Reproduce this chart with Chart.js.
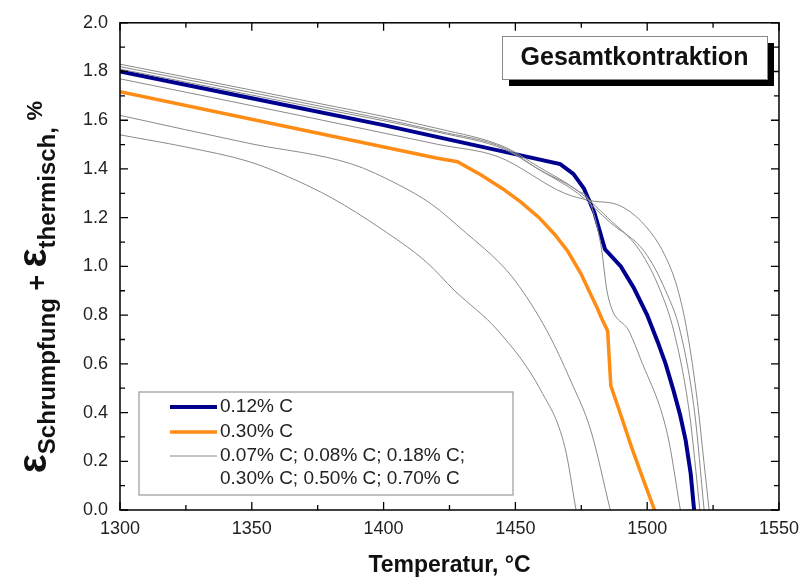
<!DOCTYPE html>
<html>
<head>
<meta charset="utf-8">
<script src="https://cdn.jsdelivr.net/npm/chart.js@4.4.0/dist/chart.umd.min.js"></script>
<style>
  html, body { margin: 0; padding: 0; background: #fff; }
  #wrap { width: 807px; height: 584px; }
</style>
</head>
<body>
<div id="wrap"><canvas id="chart" width="807" height="584"></canvas></div>
<script>
// Axis ranges and ticks
const xMin = 1300, xMax = 1550, xStep = 50;
const yMin = 0, yMax = 2.0, yStep = 0.2;

// 0.12% C (blue)
const t012 = [1300, 1350, 1400, 1446, 1467, 1472, 1476, 1480, 1484, 1490, 1495, 1500, 1504, 1507, 1510, 1512.5, 1514.6, 1516.5, 1517.8];
const e012 = [1.80, 1.69, 1.58, 1.47, 1.42, 1.38, 1.32, 1.22, 1.07, 1.00, 0.91, 0.80, 0.69, 0.60, 0.49, 0.39, 0.286, 0.15, 0.0];

// 0.30% C (orange)
const t030 = [1300, 1368, 1420, 1428, 1437, 1445, 1452, 1459, 1465, 1470, 1475, 1478.6, 1481, 1483, 1485, 1486.2, 1490, 1494, 1498, 1502.8];
const e030 = [1.717, 1.563, 1.445, 1.43, 1.375, 1.32, 1.265, 1.20, 1.13, 1.06, 0.967, 0.885, 0.83, 0.78, 0.735, 0.51, 0.39, 0.26, 0.14, 0.0];

// other steels (grey)
const tGreyA = [1300, 1325, 1349, 1364, 1380.5, 1399, 1416, 1427, 1443.5, 1459.7, 1468.8, 1473];
const eGreyA = [1.54, 1.49, 1.43, 1.367, 1.28, 1.155, 1.02, 0.90, 0.735, 0.49, 0.257, 0.0];

const tGreyB = [1300, 1349, 1388, 1405.7, 1418, 1431, 1443.5, 1450, 1462, 1471, 1478.6, 1486];
const eGreyB = [1.62, 1.505, 1.42, 1.335, 1.257, 1.14, 1.02, 0.94, 0.735, 0.53, 0.327, 0.0];

const tGreyC = [1300, 1368, 1421, 1446, 1458.6, 1473.7, 1478, 1482.4, 1485, 1493.3, 1497.5, 1507.7, 1512.6];
const eGreyC = [1.81, 1.665, 1.55, 1.48, 1.40, 1.31, 1.27, 1.09, 0.885, 0.73, 0.62, 0.31, 0.0];

const tGreyD = [1300, 1368, 1421, 1443.5, 1468.7, 1478.6, 1489.5, 1499, 1506.5, 1511.5, 1515.2, 1519, 1521.5, 1523.5];
const eGreyD = [1.77, 1.62, 1.50, 1.45, 1.30, 1.27, 1.25, 1.17, 1.05, 0.91, 0.73, 0.45, 0.2, 0.0];

const tGreyE = [1300, 1368, 1421, 1446, 1458.6, 1473.7, 1485, 1497.5, 1505, 1510.2, 1516, 1520];
const eGreyE = [1.83, 1.685, 1.565, 1.49, 1.41, 1.31, 1.20, 1.06, 0.90, 0.73, 0.40, 0.0];

const tGreyF = [1300, 1368, 1421, 1446, 1458.6, 1473.7, 1486, 1499, 1507, 1512.6, 1518, 1521.6];
const eGreyF = [1.82, 1.675, 1.555, 1.485, 1.40, 1.30, 1.18, 1.06, 0.90, 0.73, 0.40, 0.0];

const legendLabels = ['0.12% C', '0.30% C', ['0.07% C; 0.08% C; 0.18% C;', '0.30% C; 0.50% C; 0.70% C']];
const boxTitle = 'Gesamtkontraktion';
const xTitle = 'Temperatur, °C';

const BLUE = '#00008f';
const ORANGE = '#ff8c14';
const GREY = '#8a8a8a';
const FONT = '"Liberation Sans", Arial, sans-serif';

function pts(ts, es) {
  return ts.map((t, i) => ({ x: t, y: es[i] }));
}

function greySet(ts, es) {
  return { data: pts(ts, es), borderColor: GREY, borderWidth: 1, showLine: true, pointRadius: 0,
    cubicInterpolationMode: 'monotone' };
}

// Frame, inward ticks and all the annotation text
const decor = {
  id: 'decor',
  afterDraw(chart) {
    const { ctx, chartArea: a, scales: { x, y } } = chart;
    ctx.save();

    // frame
    ctx.strokeStyle = '#000';
    ctx.lineWidth = 1.5;
    ctx.strokeRect(a.left, a.top, a.right - a.left, a.bottom - a.top);

    // ticks (major + minor), pointing inward on all four sides
    ctx.lineWidth = 1.3;
    ctx.beginPath();
    for (let t = xMin; t <= xMax; t += xStep / 2) {
      const px = x.getPixelForValue(t);
      const len = (t - xMin) % xStep === 0 ? 8 : 5;
      ctx.moveTo(px, a.bottom); ctx.lineTo(px, a.bottom - len);
      ctx.moveTo(px, a.top); ctx.lineTo(px, a.top + len);
    }
    const nY = Math.round((yMax - yMin) / (yStep / 2));
    for (let i = 0; i <= nY; i++) {
      const py = y.getPixelForValue(yMin + i * yStep / 2);
      const len = i % 2 === 0 ? 8 : 5;
      ctx.moveTo(a.left, py); ctx.lineTo(a.left + len, py);
      ctx.moveTo(a.right, py); ctx.lineTo(a.right - len, py);
    }
    ctx.stroke();

    // title box with drop shadow
    const bx = 502, by = 36, bw = 265, bh = 43;
    ctx.fillStyle = '#000';
    ctx.fillRect(bx + 7, by + 7, bw, bh);
    ctx.fillStyle = '#fff';
    ctx.fillRect(bx, by, bw, bh);
    ctx.strokeStyle = '#888';
    ctx.lineWidth = 1;
    ctx.strokeRect(bx + 0.5, by + 0.5, bw, bh);
    ctx.fillStyle = '#111';
    ctx.font = 'bold 25px ' + FONT;
    ctx.textAlign = 'center';
    ctx.textBaseline = 'middle';
    ctx.fillText(boxTitle, bx + bw / 2, by + bh / 2 + 1);

    // legend
    const lx = 139, ly = 392, lw = 374, lh = 103;
    ctx.fillStyle = '#fff';
    ctx.fillRect(lx, ly, lw, lh);
    ctx.strokeStyle = '#999';
    ctx.lineWidth = 1.2;
    ctx.strokeRect(lx, ly, lw, lh);
    const rows = [407, 432, 456];
    const ds = chart.data.datasets;
    const legendSets = [ds[ds.length - 1], ds[ds.length - 2], ds[0]];
    ctx.font = '19px ' + FONT;
    ctx.textAlign = 'left';
    ctx.fillStyle = '#222';
    legendSets.forEach((d, i) => {
      ctx.strokeStyle = d.borderColor;
      ctx.lineWidth = d.borderWidth;
      ctx.beginPath();
      ctx.moveTo(170, rows[i]);
      ctx.lineTo(217, rows[i]);
      ctx.stroke();
      const lab = legendLabels[i];
      if (Array.isArray(lab)) {
        lab.forEach((s, k) => ctx.fillText(s, 220, rows[i] + k * 23));
      } else {
        ctx.fillText(lab, 220, rows[i]);
      }
    });

    // x axis title
    ctx.fillStyle = '#111';
    ctx.font = 'bold 23px ' + FONT;
    ctx.textAlign = 'center';
    ctx.fillText(xTitle, (a.left + a.right) / 2, 566);

    // y axis title with subscripts, rotated
    const parts = [
      { s: 'ε', f: 'bold 40px ' + FONT, dy: 0 },
      { s: 'Schrumpfung', f: 'bold 24px ' + FONT, dy: 9 },
      { s: ' + ', f: 'bold 27px ' + FONT, dy: 0 },
      { s: 'ε', f: 'bold 40px ' + FONT, dy: 0 },
      { s: 'thermisch', f: 'bold 24px ' + FONT, dy: 9 },
      { s: ', ', f: 'bold 24px ' + FONT, dy: 9 },
      { s: '%', f: 'bold 22px ' + FONT, dy: -4 }
    ];
    let total = 0;
    parts.forEach(p => { ctx.font = p.f; p.w = ctx.measureText(p.s).width; total += p.w; });
    ctx.translate(46, 287);
    ctx.rotate(-Math.PI / 2);
    ctx.textAlign = 'left';
    ctx.textBaseline = 'alphabetic';
    let cx = -total / 2;
    parts.forEach(p => {
      ctx.font = p.f;
      ctx.fillText(p.s, cx, p.dy);
      cx += p.w;
    });
    ctx.restore();
  }
};

new Chart(document.getElementById('chart'), {
  type: 'scatter',
  data: {
    datasets: [
      greySet(tGreyA, eGreyA),
      greySet(tGreyB, eGreyB),
      greySet(tGreyC, eGreyC),
      greySet(tGreyD, eGreyD),
      greySet(tGreyE, eGreyE),
      greySet(tGreyF, eGreyF),
      { data: pts(t030, e030), borderColor: ORANGE, borderWidth: 3.5, showLine: true, pointRadius: 0, tension: 0 },
      { data: pts(t012, e012), borderColor: BLUE, borderWidth: 4, showLine: true, pointRadius: 0, tension: 0 }
    ]
  },
  options: {
    responsive: false,
    devicePixelRatio: 1,
    animation: false,
    layout: { padding: { left: 0, right: 25, top: 20, bottom: 0 } },
    plugins: { legend: { display: false }, tooltip: { enabled: false } },
    scales: {
      x: {
        type: 'linear', min: xMin, max: xMax,
        grid: { display: false, drawTicks: false }, border: { display: false },
        ticks: { stepSize: xStep, padding: 8, color: '#222', font: { family: FONT, size: 18 },
          callback: v => String(v) },
        afterFit(scale) { scale.height = 74; }
      },
      y: {
        min: yMin, max: yMax,
        grid: { display: false, drawTicks: false }, border: { display: false },
        ticks: { stepSize: yStep, padding: 12, color: '#222', font: { family: FONT, size: 18 },
          callback: v => v.toFixed(1) },
        afterFit(scale) { scale.width = 120; }
      }
    }
  },
  plugins: [decor]
});
</script>
</body>
</html>
